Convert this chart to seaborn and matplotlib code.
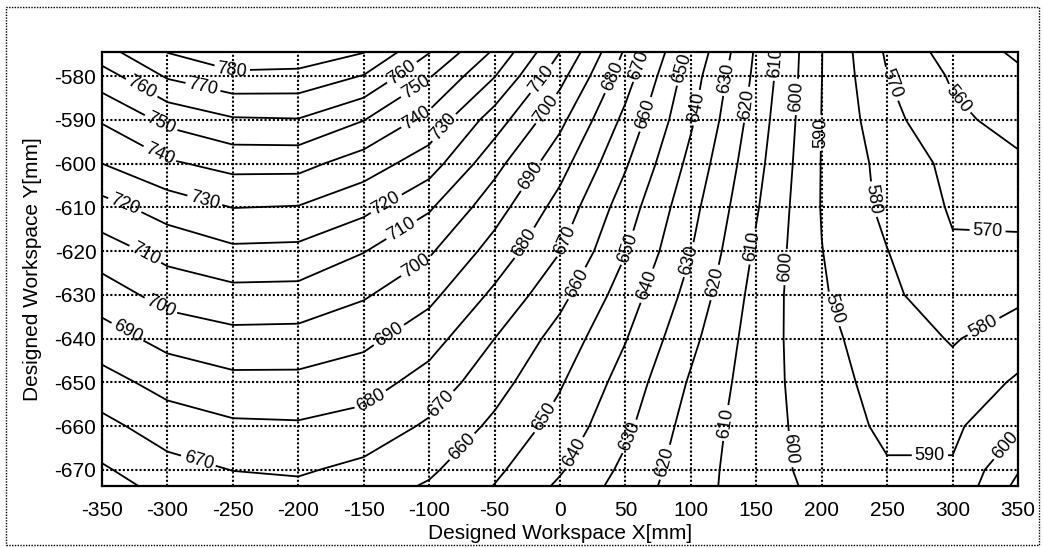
import numpy as np
import matplotlib
matplotlib.use("Agg")
import matplotlib.pyplot as plt
from matplotlib.patches import Rectangle
import seaborn as sns

# Measured field on the designed workspace grid (x every 50 mm, y every 10 mm plus the edges)
x_mm = [-350, -300, -250, -200, -150, -100, -50, 0, 50, 100, 150, 200, 250, 300, 350]
y_mm = [-574.5, -580, -590, -600, -610, -620, -630, -640, -650, -660, -670, -673.7]

z_top = [766, 780.3, 788, 787, 780.4, 760.5, 738.5, 710, 678.6, 648.1, 618.6, 590.2, 568.6, 555.5, 548.5]
z_580 = [755.5, 771.2, 777.5, 776.9, 769.5, 750.9, 730.4, 703.2, 674.5, 644.7, 617.6, 590.1, 570.2, 558.8, 551.8]
z_590 = [741, 752.4, 758.9, 759.5, 750.3, 736.9, 715.1, 692.6, 667.3, 641.4, 615.3, 589.8, 573.2, 562, 556.7]
z_600 = [730, 738.6, 743.2, 743.2, 735.1, 724.8, 703.2, 683.8, 661.1, 637.1, 613.1, 589.6, 576.4, 567.4, 561.6]
z_610 = [716.4, 724.4, 730.2, 729.5, 722.8, 711.2, 694.2, 676.3, 655, 633.3, 610.9, 589.5, 577.5, 569.0, 566.9]
z_620 = [705.3, 713.3, 718, 717.5, 710.4, 701.3, 686.1, 670.3, 650.5, 630.3, 608.5, 590.2, 580.2, 571.0, 572.4]
z_630 = [694.9, 703.8, 706.9, 706.6, 701.1, 692.6, 678, 662.9, 645.2, 626.5, 606.5, 591.1, 581.6, 575.5, 578.1]
z_640 = [685.5, 693.3, 696.9, 696.6, 692.5, 684.1, 670, 656.1, 640.5, 622.5, 605.3, 592.6, 584.8, 579.3, 584.5]
z_650 = [676.3, 683.6, 687.3, 687.3, 684.4, 676, 663.9, 651, 635.9, 618.8, 604.8, 593.8, 586.5, 583, 591.5]
z_660 = [667.2, 674.9, 678.4, 678.9, 676.1, 668.5, 657.9, 646.3, 632.2, 616, 604.5, 595.3, 588, 588, 598.9]
z_670 = [658.7, 666.5, 670.2, 671.2, 667.5, 661.6, 651.9, 641, 627.7, 614.4, 604.4, 596.5, 591, 591, 609.3]
z_bot = [655.6, 663.5, 667.2, 668.3, 664.4, 659, 649.7, 638.4, 626, 613.9, 604.6, 597.5, 592.5, 592, 612.5]

levels = list(range(550, 790, 10))

# where each contour value is written along its line
label_spots = {
    780: [(-251, -579)],
    770: [(-273, -582.7)],
    760: [(-321, -583.4), (-118.5, -580.1)],
    750: [(-307, -591.9), (-108, -583.5)],
    740: [(-307, -598.5), (-108, -590.3)],
    730: [(-273, -610.1), (-88, -591.9)],
    720: [(-334, -610.6), (-130, -610.6)],
    710: [(-318, -621.3), (-118.5, -616.3), (-13, -580.9)],
    700: [(-306, -633), (-108, -624.3), (-9, -587.8)],
    690: [(-331, -638.7), (-130, -639.5), (-17.6, -603.7)],
    680: [(-144, -654.4), (-24.5, -618.6), (40.5, -580.2)],
    670: [(-277.6, -669.2), (-89, -655.5), (6, -617.9), (61, -577.5)],
    660: [(-71, -665.8), (15, -627.7), (67, -588.9)],
    650: [(-9, -658.5), (52, -619.3), (93, -578.2)],
    640: [(13, -666.5), (69, -628.2), (105.5, -587.3)],
    630: [(55, -662.6), (99, -622), (127.6, -580.5)],
    620: [(78, -668.1), (120, -627.3), (143.7, -586.6)],
    610: [(124.6, -659.2), (147.5, -619), (166.6, -577)],
    600: [(172, -665.4), (170, -623.6), (183, -584.8), (341.6, -664.7)],
    590: [(202.5, -593), (207.6, -633.4), (282.7, -667.7)],
    580: [(235.4, -608.3), (327, -639.1)],
    570: [(248.3, -582.4), (326.3, -618.6)],
    560: [(299.5, -586.6)],
}

x_ticks = list(range(-350, 351, 50))
y_ticks = list(range(-670, -579, 10))

sns.set_theme(style="white")
plt.rcParams["font.family"] = ["Liberation Sans", "DejaVu Sans"]
plt.rcParams["axes.unicode_minus"] = False

Z = np.array([z_top, z_580, z_590, z_600, z_610, z_620, z_630,
              z_640, z_650, z_660, z_670, z_bot])
X, Y = np.meshgrid(x_mm, y_mm)

fig = plt.figure(figsize=(10.43, 5.48), dpi=100)
ax = fig.add_axes([102 / 1043, 1 - 486 / 548, 916 / 1043, 434 / 548])

ax.grid(True, color="black", linestyle=(0, (1, 1)), linewidth=1.5)
ax.set_axisbelow(True)

# one contour set per level so each value gets its own label spots
for lev in levels:
    cs = ax.contour(X, Y, Z, levels=[lev], colors="black", linewidths=1.3, zorder=3)
    spots = label_spots.get(lev)
    if spots:
        ax.clabel(cs, manual=spots, inline=True, fmt="%d",
                  fontsize=13, colors="black", inline_spacing=3)

ax.set_xlim(-350, 350)
ax.set_ylim(-673.7, -574.5)
ax.set_xticks(x_ticks)
ax.set_yticks(y_ticks)
ax.tick_params(axis="both", length=0, labelsize=15, colors="black")
ax.tick_params(axis="x", pad=11)
ax.tick_params(axis="y", pad=4)

for s in ax.spines.values():
    s.set_color("black")
    s.set_linewidth(1.6)

ax.set_xlabel("Designed Workspace X[mm]", fontsize=15, color="black")
ax.set_ylabel("Designed Workspace Y[mm]", fontsize=15, color="black")
ax.xaxis.set_label_coords(0.5, -0.087)
ax.yaxis.set_label_coords(-0.066, 0.5)

fig.patches.append(Rectangle((6 / 1043, 1 - 545 / 548), 1033 / 1043, 538 / 548,
                             transform=fig.transFigure, fill=False,
                             edgecolor="black", linewidth=1.0,
                             linestyle=(0, (1, 1))))

fig.savefig("out.png", dpi=100)
